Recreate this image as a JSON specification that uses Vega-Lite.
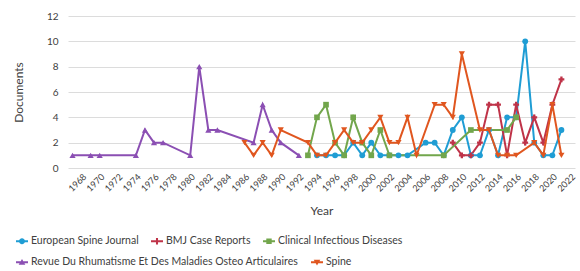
{
  "$schema": "https://vega.github.io/schema/vega-lite/v6.json",
  "width": 507,
  "height": 152,
  "autosize": "none",
  "padding": {"left": 68, "top": 16, "right": 5, "bottom": 103},
  "background": "white",
  "config": {
    "font": "Lato",
    "view": {"stroke": null},
    "axis": {"labelColor": "#404040", "titleColor": "#404040", "titleFontWeight": "normal", "titleFontSize": 12, "labelFontSize": 10, "domain": false, "ticks": false},
    "legend": {"labelColor": "#404040", "labelFontSize": 10.5, "labelLimit": 400, "symbolSize": 144, "columnPadding": 12, "labelOffset": 3}
  },
  "data": {
    "values": [
      {"Source": "European Spine Journal", "Year": 1994, "Documents": 1},
      {"Source": "European Spine Journal", "Year": 1995, "Documents": 1},
      {"Source": "European Spine Journal", "Year": 1996, "Documents": 1},
      {"Source": "European Spine Journal", "Year": 1997, "Documents": 1},
      {"Source": "European Spine Journal", "Year": 1998, "Documents": 2},
      {"Source": "European Spine Journal", "Year": 1999, "Documents": 1},
      {"Source": "European Spine Journal", "Year": 2000, "Documents": 2},
      {"Source": "European Spine Journal", "Year": 2001, "Documents": 1},
      {"Source": "European Spine Journal", "Year": 2002, "Documents": 1},
      {"Source": "European Spine Journal", "Year": 2003, "Documents": 1},
      {"Source": "European Spine Journal", "Year": 2004, "Documents": 1},
      {"Source": "European Spine Journal", "Year": 2006, "Documents": 2},
      {"Source": "European Spine Journal", "Year": 2007, "Documents": 2},
      {"Source": "European Spine Journal", "Year": 2008, "Documents": 1},
      {"Source": "European Spine Journal", "Year": 2009, "Documents": 3},
      {"Source": "European Spine Journal", "Year": 2010, "Documents": 4},
      {"Source": "European Spine Journal", "Year": 2011, "Documents": 1},
      {"Source": "European Spine Journal", "Year": 2012, "Documents": 1},
      {"Source": "European Spine Journal", "Year": 2013, "Documents": 3},
      {"Source": "European Spine Journal", "Year": 2014, "Documents": 1},
      {"Source": "European Spine Journal", "Year": 2015, "Documents": 4},
      {"Source": "European Spine Journal", "Year": 2016, "Documents": 4},
      {"Source": "European Spine Journal", "Year": 2017, "Documents": 10},
      {"Source": "European Spine Journal", "Year": 2018, "Documents": 2},
      {"Source": "European Spine Journal", "Year": 2019, "Documents": 1},
      {"Source": "European Spine Journal", "Year": 2020, "Documents": 1},
      {"Source": "European Spine Journal", "Year": 2021, "Documents": 3},
      {"Source": "BMJ Case Reports", "Year": 2009, "Documents": 2},
      {"Source": "BMJ Case Reports", "Year": 2010, "Documents": 1},
      {"Source": "BMJ Case Reports", "Year": 2011, "Documents": 1},
      {"Source": "BMJ Case Reports", "Year": 2012, "Documents": 2},
      {"Source": "BMJ Case Reports", "Year": 2013, "Documents": 5},
      {"Source": "BMJ Case Reports", "Year": 2014, "Documents": 5},
      {"Source": "BMJ Case Reports", "Year": 2015, "Documents": 1},
      {"Source": "BMJ Case Reports", "Year": 2016, "Documents": 5},
      {"Source": "BMJ Case Reports", "Year": 2017, "Documents": 2},
      {"Source": "BMJ Case Reports", "Year": 2018, "Documents": 4},
      {"Source": "BMJ Case Reports", "Year": 2019, "Documents": 2},
      {"Source": "BMJ Case Reports", "Year": 2020, "Documents": 5},
      {"Source": "BMJ Case Reports", "Year": 2021, "Documents": 7},
      {"Source": "Clinical Infectious Diseases", "Year": 1993, "Documents": 1},
      {"Source": "Clinical Infectious Diseases", "Year": 1994, "Documents": 4},
      {"Source": "Clinical Infectious Diseases", "Year": 1995, "Documents": 5},
      {"Source": "Clinical Infectious Diseases", "Year": 1996, "Documents": 2},
      {"Source": "Clinical Infectious Diseases", "Year": 1997, "Documents": 1},
      {"Source": "Clinical Infectious Diseases", "Year": 1998, "Documents": 4},
      {"Source": "Clinical Infectious Diseases", "Year": 1999, "Documents": 2},
      {"Source": "Clinical Infectious Diseases", "Year": 2000, "Documents": 1},
      {"Source": "Clinical Infectious Diseases", "Year": 2001, "Documents": 3},
      {"Source": "Clinical Infectious Diseases", "Year": 2002, "Documents": 1},
      {"Source": "Clinical Infectious Diseases", "Year": 2008, "Documents": 1},
      {"Source": "Clinical Infectious Diseases", "Year": 2011, "Documents": 3},
      {"Source": "Clinical Infectious Diseases", "Year": 2015, "Documents": 3},
      {"Source": "Clinical Infectious Diseases", "Year": 2016, "Documents": 4},
      {"Source": "Revue Du Rhumatisme Et Des Maladies Osteo Articulaires", "Year": 1967, "Documents": 1},
      {"Source": "Revue Du Rhumatisme Et Des Maladies Osteo Articulaires", "Year": 1969, "Documents": 1},
      {"Source": "Revue Du Rhumatisme Et Des Maladies Osteo Articulaires", "Year": 1970, "Documents": 1},
      {"Source": "Revue Du Rhumatisme Et Des Maladies Osteo Articulaires", "Year": 1974, "Documents": 1},
      {"Source": "Revue Du Rhumatisme Et Des Maladies Osteo Articulaires", "Year": 1975, "Documents": 3},
      {"Source": "Revue Du Rhumatisme Et Des Maladies Osteo Articulaires", "Year": 1976, "Documents": 2},
      {"Source": "Revue Du Rhumatisme Et Des Maladies Osteo Articulaires", "Year": 1977, "Documents": 2},
      {"Source": "Revue Du Rhumatisme Et Des Maladies Osteo Articulaires", "Year": 1980, "Documents": 1},
      {"Source": "Revue Du Rhumatisme Et Des Maladies Osteo Articulaires", "Year": 1981, "Documents": 8},
      {"Source": "Revue Du Rhumatisme Et Des Maladies Osteo Articulaires", "Year": 1982, "Documents": 3},
      {"Source": "Revue Du Rhumatisme Et Des Maladies Osteo Articulaires", "Year": 1983, "Documents": 3},
      {"Source": "Revue Du Rhumatisme Et Des Maladies Osteo Articulaires", "Year": 1987, "Documents": 2},
      {"Source": "Revue Du Rhumatisme Et Des Maladies Osteo Articulaires", "Year": 1988, "Documents": 5},
      {"Source": "Revue Du Rhumatisme Et Des Maladies Osteo Articulaires", "Year": 1989, "Documents": 3},
      {"Source": "Revue Du Rhumatisme Et Des Maladies Osteo Articulaires", "Year": 1990, "Documents": 2},
      {"Source": "Revue Du Rhumatisme Et Des Maladies Osteo Articulaires", "Year": 1992, "Documents": 1},
      {"Source": "Spine", "Year": 1986, "Documents": 2},
      {"Source": "Spine", "Year": 1987, "Documents": 1},
      {"Source": "Spine", "Year": 1988, "Documents": 2},
      {"Source": "Spine", "Year": 1989, "Documents": 1},
      {"Source": "Spine", "Year": 1990, "Documents": 3},
      {"Source": "Spine", "Year": 1993, "Documents": 2},
      {"Source": "Spine", "Year": 1994, "Documents": 1},
      {"Source": "Spine", "Year": 1995, "Documents": 1},
      {"Source": "Spine", "Year": 1996, "Documents": 2},
      {"Source": "Spine", "Year": 1997, "Documents": 3},
      {"Source": "Spine", "Year": 1998, "Documents": 2},
      {"Source": "Spine", "Year": 1999, "Documents": 2},
      {"Source": "Spine", "Year": 2000, "Documents": 3},
      {"Source": "Spine", "Year": 2001, "Documents": 4},
      {"Source": "Spine", "Year": 2002, "Documents": 2},
      {"Source": "Spine", "Year": 2003, "Documents": 2},
      {"Source": "Spine", "Year": 2004, "Documents": 4},
      {"Source": "Spine", "Year": 2005, "Documents": 1},
      {"Source": "Spine", "Year": 2007, "Documents": 5},
      {"Source": "Spine", "Year": 2008, "Documents": 5},
      {"Source": "Spine", "Year": 2009, "Documents": 4},
      {"Source": "Spine", "Year": 2010, "Documents": 9},
      {"Source": "Spine", "Year": 2012, "Documents": 3},
      {"Source": "Spine", "Year": 2013, "Documents": 3},
      {"Source": "Spine", "Year": 2014, "Documents": 1},
      {"Source": "Spine", "Year": 2015, "Documents": 1},
      {"Source": "Spine", "Year": 2016, "Documents": 1},
      {"Source": "Spine", "Year": 2018, "Documents": 2},
      {"Source": "Spine", "Year": 2019, "Documents": 1},
      {"Source": "Spine", "Year": 2020, "Documents": 5},
      {"Source": "Spine", "Year": 2021, "Documents": 1}
    ]
  },
  "encoding": {
    "x": {"field": "Year", "type": "quantitative", "scale": {"domain": [1966.5, 2022.5], "nice": false, "zero": false},
      "axis": {"title": "Year", "grid": false, "labelAngle": -45, "labelFontSize": 9, "labelPadding": 4, "titlePadding": 12, "format": "d", "labelOverlap": false, "labelBound": false,
        "values": [1968, 1970, 1972, 1974, 1976, 1978, 1980, 1982, 1984, 1986, 1988, 1990, 1992, 1994, 1996, 1998, 2000, 2002, 2004, 2006, 2008, 2010, 2012, 2014, 2016, 2018, 2020, 2022]}},
    "y": {"field": "Documents", "type": "quantitative", "scale": {"domain": [0, 12], "nice": false},
      "axis": {"title": "Documents", "values": [0, 2, 4, 6, 8, 10, 12], "grid": true, "gridColor": "#dcdcdc", "labelPadding": 10, "titlePadding": 21}}
  },
  "layer": [
    {
      "transform": [{"filter": {"field": "Source", "oneOf": ["European Spine Journal", "BMJ Case Reports", "Clinical Infectious Diseases"]}}],
      "encoding": {
        "color": {"field": "Source", "type": "nominal",
          "scale": {"domain": ["European Spine Journal", "BMJ Case Reports", "Clinical Infectious Diseases"], "range": ["#1f9dd4", "#bf3348", "#72a64c"]},
          "legend": {"orient": "none", "legendX": -52, "legendY": 219, "direction": "horizontal", "title": null,
            "encode": {"symbols": {"update": {
              "shape": {"signal": "datum.value === 'European Spine Journal' ? 'M-1,-0.17H1V0.17H-1Z M0.5,0A0.5,0.5 0 1,1 -0.5,0A0.5,0.5 0 1,1 0.5,0Z' : datum.value === 'BMJ Case Reports' ? 'M-1,-0.17H1V0.17H-1Z M-0.17,-0.55H0.17V-0.17H0.55V0.17H0.17V0.55H-0.17V0.17H-0.55V-0.17H-0.17Z' : 'M-1,-0.17H1V0.17H-1Z M-0.45,-0.45H0.45V0.45H-0.45Z'"},
              "fill": {"signal": "datum.value === 'European Spine Journal' ? '#1f9dd4' : datum.value === 'BMJ Case Reports' ? '#bf3348' : '#72a64c'"},
              "strokeWidth": {"value": 0},
              "opacity": {"value": 1}}}}}}
      },
      "layer": [
        {"mark": {"type": "line", "strokeWidth": 2}},
        {"transform": [{"filter": {"field": "Source", "equal": "European Spine Journal"}}],
          "mark": {"type": "point", "filled": true, "opacity": 1, "size": 34, "shape": "circle"}},
        {"transform": [{"filter": {"field": "Source", "equal": "BMJ Case Reports"}}],
          "mark": {"type": "point", "filled": true, "opacity": 1, "size": 34, "shape": "cross"}},
        {"transform": [{"filter": {"field": "Source", "equal": "Clinical Infectious Diseases"}}],
          "mark": {"type": "point", "filled": true, "opacity": 1, "size": 32, "shape": "square"}}
      ]
    },
    {
      "transform": [{"filter": {"field": "Source", "oneOf": ["Revue Du Rhumatisme Et Des Maladies Osteo Articulaires", "Spine"]}}],
      "encoding": {
        "color": {"field": "Source", "type": "nominal",
          "scale": {"domain": ["Revue Du Rhumatisme Et Des Maladies Osteo Articulaires", "Spine"], "range": ["#8b4fb3", "#e0561f"]},
          "legend": {"orient": "none", "legendX": -52, "legendY": 240, "direction": "horizontal", "title": null,
            "encode": {"symbols": {"update": {
              "shape": {"signal": "datum.value === 'Spine' ? 'M-1,-0.17H1V0.17H-1Z M-0.55,-0.4H0.55L0,0.55Z' : 'M-1,-0.17H1V0.17H-1Z M0,-0.55L0.55,0.4H-0.55Z'"},
              "fill": {"signal": "datum.value === 'Spine' ? '#e0561f' : '#8b4fb3'"},
              "strokeWidth": {"value": 0},
              "opacity": {"value": 1}}}}}}
      },
      "layer": [
        {"mark": {"type": "line", "strokeWidth": 2}},
        {"transform": [{"filter": {"field": "Source", "equal": "Revue Du Rhumatisme Et Des Maladies Osteo Articulaires"}}],
          "mark": {"type": "point", "filled": true, "opacity": 1, "size": 38, "shape": "triangle-up"}},
        {"transform": [{"filter": {"field": "Source", "equal": "Spine"}}],
          "mark": {"type": "point", "filled": true, "opacity": 1, "size": 38, "shape": "triangle-down"}}
      ]
    }
  ],
  "resolve": {"scale": {"color": "independent"}}
}
